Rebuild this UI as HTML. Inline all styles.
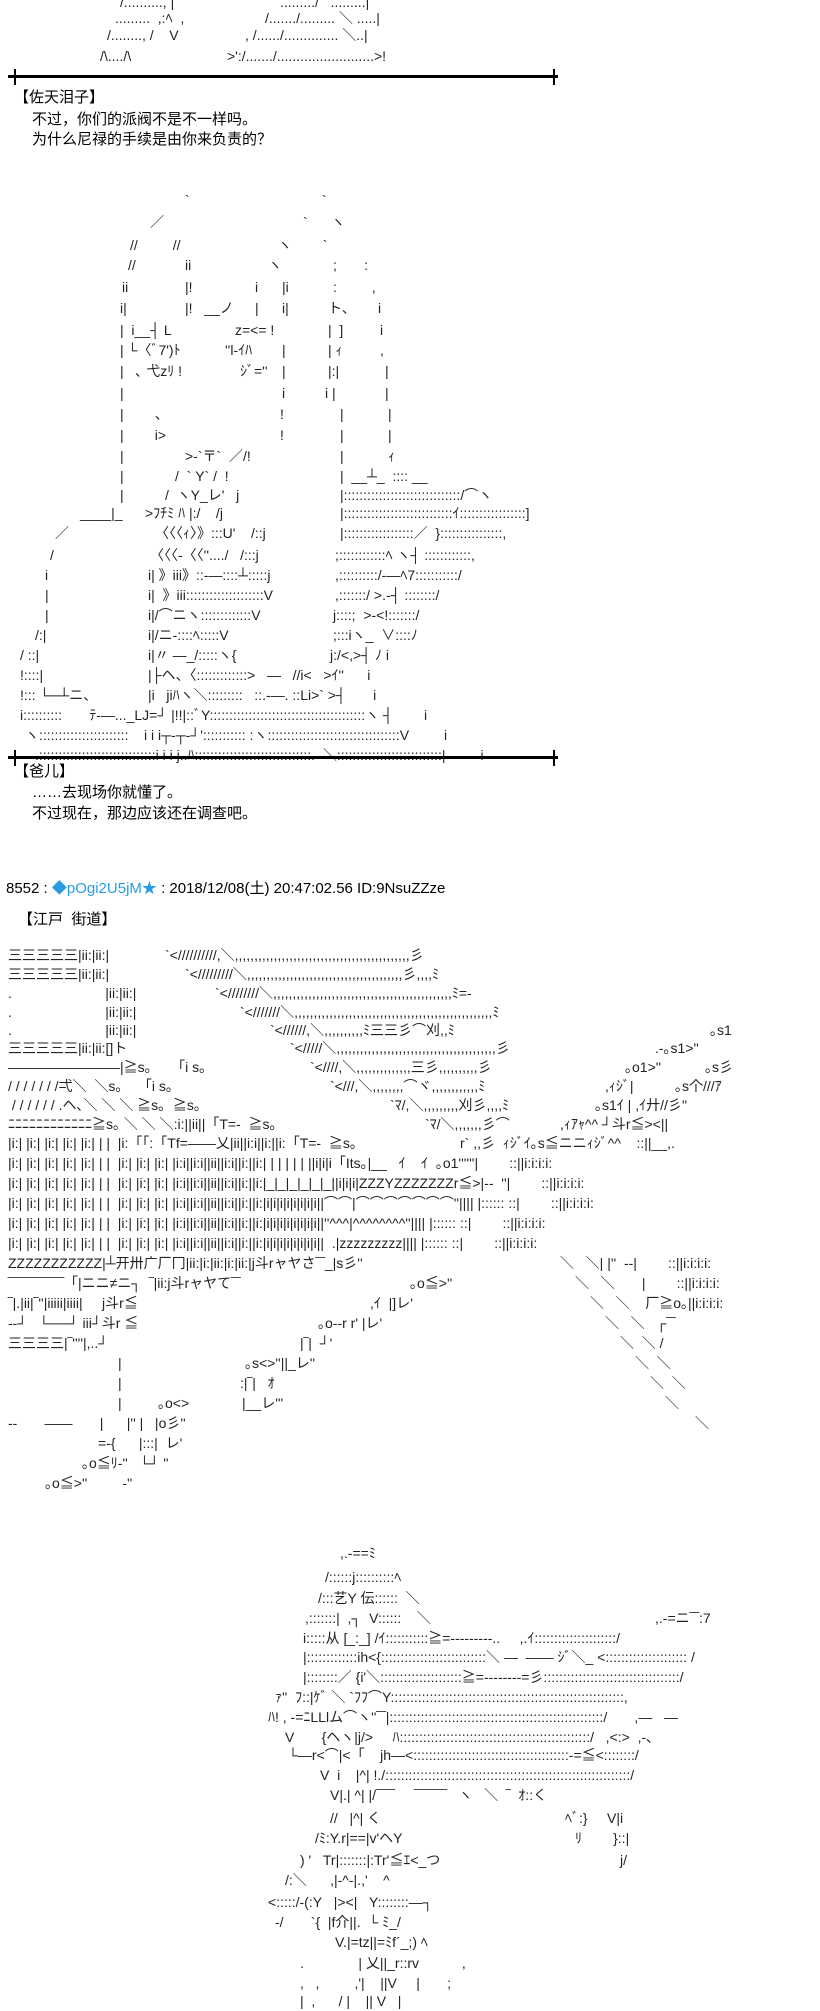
<!DOCTYPE html>
<html><head><meta charset="utf-8">
<style>
html,body{margin:0;padding:0;background:#fff;}
body{width:820px;height:2000px;position:relative;overflow:hidden;color:#000;}
.a{position:absolute;white-space:pre;font:14px/20px "Liberation Sans","Noto Sans CJK JP",sans-serif;color:#222;}
.t{position:absolute;white-space:pre;font:15px/20px "Liberation Sans","Noto Sans CJK SC",sans-serif;color:#000;}
.r{position:absolute;height:3px;background:#000;}
.k{position:absolute;width:2px;height:16px;background:#000;}
</style></head><body>

<!-- top art -->
<div class="a" style="top:-8px;left:120px">/.........., |</div>
<div class="a" style="top:-8px;left:280px">........./&nbsp;&nbsp;&nbsp;.........|</div>
<div class="a" style="top:8px;left:115px">.........&nbsp; ,:ﾍ&nbsp; ,</div>
<div class="a" style="top:8px;left:265px">/......./.........&nbsp;＼ .....|</div>
<div class="a" style="top:25px;left:107px">/........, /&nbsp;&nbsp;&nbsp; V</div>
<div class="a" style="top:25px;left:245px">, /....../..............&nbsp;＼..|</div>
<div class="a" style="top:46px;left:100px">/\..../\</div>
<div class="a" style="top:46px;left:227px">&gt;':/......./.........................&gt;!</div>

<div class="r" style="top:75px;left:8px;width:550px"></div>
<div class="k" style="top:69px;left:14px"></div>
<div class="k" style="top:69px;left:553px"></div>

<div class="t" style="top:88px;left:14px">【佐天泪子】</div>
<div class="t" style="top:110px;left:32px">不过，你们的派阀不是不一样吗。</div>
<div class="t" style="top:130px;left:32px">为什么尼禄的手续是由你来负责的？</div>

<!-- figure -->
<div class="a" style="top:190px;left:185px">`</div><div class="a" style="top:190px;left:322px">`</div>
<div class="a" style="top:212px;left:150px">／</div><div class="a" style="top:212px;left:303px">`&nbsp;&nbsp;&nbsp;&nbsp;&nbsp;&nbsp;ヽ</div>
<div class="a" style="top:235px;left:130px">//&nbsp;&nbsp;&nbsp;&nbsp;&nbsp;&nbsp;&nbsp;&nbsp;&nbsp;//&nbsp;&nbsp;&nbsp;&nbsp;&nbsp;&nbsp;&nbsp;&nbsp;&nbsp;&nbsp;&nbsp;&nbsp;&nbsp;&nbsp;&nbsp;&nbsp;&nbsp;&nbsp;&nbsp;&nbsp;&nbsp;&nbsp;&nbsp;&nbsp;&nbsp;ヽ&nbsp;&nbsp;&nbsp;&nbsp;&nbsp;&nbsp;&nbsp;&nbsp;`</div>
<div class="a" style="top:255px;left:128px">//</div><div class="a" style="top:255px;left:185px">ii</div><div class="a" style="top:255px;left:268px">ヽ</div><div class="a" style="top:255px;left:333px">;&nbsp;&nbsp;&nbsp;&nbsp;&nbsp;&nbsp;&nbsp;:</div>
<div class="a" style="top:277px;left:122px">ii</div><div class="a" style="top:277px;left:185px">|!</div><div class="a" style="top:277px;left:255px">i</div><div class="a" style="top:277px;left:282px">|i</div><div class="a" style="top:277px;left:333px">:&nbsp;&nbsp;&nbsp;&nbsp;&nbsp;&nbsp;&nbsp;&nbsp;&nbsp;,</div>
<div class="a" style="top:298px;left:120px">i|</div><div class="a" style="top:298px;left:185px">|!&nbsp;&nbsp;&nbsp;__ノ</div><div class="a" style="top:298px;left:255px">|</div><div class="a" style="top:298px;left:282px">i|</div><div class="a" style="top:298px;left:328px">ト、</div><div class="a" style="top:298px;left:378px">i</div>
<div class="a" style="top:320px;left:120px">|&nbsp;&nbsp;i__┤ L</div><div class="a" style="top:320px;left:235px">z=&lt;= !</div><div class="a" style="top:320px;left:328px">|&nbsp;&nbsp;]</div><div class="a" style="top:320px;left:380px">i</div>
<div class="a" style="top:340px;left:120px">| └〈ﾞ7')ﾄ</div><div class="a" style="top:340px;left:225px">''l-ｲﾊ</div><div class="a" style="top:340px;left:282px">|</div><div class="a" style="top:340px;left:328px">| ｨ</div><div class="a" style="top:340px;left:380px">,</div>
<div class="a" style="top:361px;left:120px">|&nbsp;&nbsp;&nbsp;､ 弋zﾘ !</div><div class="a" style="top:361px;left:240px">ｼﾞ=''</div><div class="a" style="top:361px;left:282px">|</div><div class="a" style="top:361px;left:328px">|:|</div><div class="a" style="top:361px;left:385px">|</div>
<div class="a" style="top:383px;left:120px">|</div><div class="a" style="top:383px;left:282px">i</div><div class="a" style="top:383px;left:325px">i |</div><div class="a" style="top:383px;left:385px">|</div>
<div class="a" style="top:404px;left:120px">|&nbsp;&nbsp;&nbsp;&nbsp;&nbsp;&nbsp;&nbsp;&nbsp;、</div><div class="a" style="top:404px;left:280px">!</div><div class="a" style="top:404px;left:340px">|</div><div class="a" style="top:404px;left:388px">|</div>
<div class="a" style="top:425px;left:120px">|&nbsp;&nbsp;&nbsp;&nbsp;&nbsp;&nbsp;&nbsp;&nbsp;i&gt;</div><div class="a" style="top:425px;left:280px">!</div><div class="a" style="top:425px;left:340px">|</div><div class="a" style="top:425px;left:388px">|</div>
<div class="a" style="top:446px;left:120px">|</div><div class="a" style="top:446px;left:185px">&gt;-`〒`&nbsp;&nbsp;／/!</div><div class="a" style="top:446px;left:340px">|</div><div class="a" style="top:446px;left:388px">ｨ</div>
<div class="a" style="top:466px;left:120px">|</div><div class="a" style="top:466px;left:175px">/&nbsp;&nbsp;`&nbsp;Y`&nbsp;/&nbsp;&nbsp;!</div><div class="a" style="top:466px;left:340px">|&nbsp;&nbsp;__┴_&nbsp;&nbsp;::::&nbsp;__</div>
<div class="a" style="top:485px;left:120px">|</div><div class="a" style="top:485px;left:165px">/&nbsp;&nbsp;ヽY_レ'&nbsp;&nbsp;&nbsp;j</div><div class="a" style="top:485px;left:340px">|::::::::::::::::::::::::::::::/⌒ヽ</div>
<div class="a" style="top:503px;left:80px">____|_</div><div class="a" style="top:503px;left:145px">&gt;ﾌﾁﾐ ﾊ |:/&nbsp;&nbsp;&nbsp;&nbsp;/j</div><div class="a" style="top:503px;left:340px">|::::::::::::::::::::::::::::ｲ:::::::::::::::::]</div>
<div class="a" style="top:523px;left:55px">／</div><div class="a" style="top:523px;left:155px">〈〈〈ｨ〉》:::U'&nbsp;&nbsp;&nbsp;&nbsp;/::j</div><div class="a" style="top:523px;left:340px">|::::::::::::::::::／&nbsp;&nbsp;}::::::::::::::::,</div>
<div class="a" style="top:545px;left:50px">/</div><div class="a" style="top:545px;left:150px">〈〈〈-〈〈''..../&nbsp;&nbsp;&nbsp;/:::j</div><div class="a" style="top:545px;left:335px">;::::::::::::ﾍ ヽ┤ ::::::::::::,</div>
<div class="a" style="top:565px;left:45px">i</div><div class="a" style="top:565px;left:148px">i| 》iii》::-―::::┴:::::j</div><div class="a" style="top:565px;left:335px">,::::::::::/-―ﾍ7:::::::::::/</div>
<div class="a" style="top:585px;left:45px">|</div><div class="a" style="top:585px;left:148px">i|&nbsp;&nbsp;》iii::::::::::::::::::::V</div><div class="a" style="top:585px;left:335px">,:::::::/ &gt;.-┤ ::::::::/</div>
<div class="a" style="top:605px;left:45px">|</div><div class="a" style="top:605px;left:148px">i|/⌒ニヽ:::::::::::::V</div><div class="a" style="top:605px;left:333px">j::::;&nbsp;&nbsp;&gt;-&lt;!:::::::/</div>
<div class="a" style="top:625px;left:35px">/:|</div><div class="a" style="top:625px;left:148px">i|/ニ-::::ﾍ:::::V</div><div class="a" style="top:625px;left:333px">;:::iヽ_&nbsp;&nbsp;∨::::ﾉ</div>
<div class="a" style="top:645px;left:20px">/ ::|</div><div class="a" style="top:645px;left:148px">i|〃 ―_/:::::ヽ{</div><div class="a" style="top:645px;left:330px">j:/&lt;,&gt;┤ ﾉ i</div>
<div class="a" style="top:665px;left:20px">!::::|</div><div class="a" style="top:665px;left:148px">|├ヘ、〈:::::::::::::&gt;&nbsp;&nbsp;&nbsp;―&nbsp;&nbsp;&nbsp;//i&lt;&nbsp;&nbsp;&nbsp;&gt;ｲ''&nbsp;&nbsp;&nbsp;&nbsp;&nbsp;&nbsp;i</div>
<div class="a" style="top:685px;left:20px">!::: └─┴ニ、</div><div class="a" style="top:685px;left:148px">|i&nbsp;&nbsp;&nbsp;jiﾊヽ＼:::::::::&nbsp;&nbsp;&nbsp;::.-―.&nbsp;::Li&gt;`&nbsp;&gt;┤&nbsp;&nbsp;&nbsp;&nbsp;&nbsp;&nbsp;&nbsp;i</div>
<div class="a" style="top:705px;left:20px">i::::::::::&nbsp;&nbsp;&nbsp;&nbsp;&nbsp;&nbsp;&nbsp;ﾃ-―..._LJ=┘ |!!|::ﾞY::::::::::::::::::::::::::::::::::::::::ヽ ┤&nbsp;&nbsp;&nbsp;&nbsp;&nbsp;&nbsp;&nbsp;&nbsp;i</div>
<div class="a" style="top:725px;left:25px">ヽ:::::::::::::::::::::::&nbsp;&nbsp;&nbsp;&nbsp;i i i┬‐┬‐┘'::::::::::: :ヽ::::::::::::::::::::::::::::::::::V&nbsp;&nbsp;&nbsp;&nbsp;&nbsp;&nbsp;&nbsp;&nbsp;&nbsp;i</div>
<div class="a" style="top:745px;left:35px">.::::::::::::::::::::::::::::::i i i j..ﾊ::::::::::::::::::::::::::::::.&nbsp;&nbsp;＼:::::::::::::::::::::::::::|&nbsp;&nbsp;&nbsp;&nbsp;&nbsp;&nbsp;&nbsp;&nbsp;&nbsp;i</div>

<div class="r" style="top:756px;left:8px;width:550px"></div>
<div class="k" style="top:750px;left:14px"></div>
<div class="k" style="top:750px;left:553px"></div>

<div class="t" style="top:762px;left:14px">【爸儿】</div>
<div class="t" style="top:783px;left:32px">……去现场你就懂了。</div>
<div class="t" style="top:804px;left:32px">不过现在，那边应该还在调查吧。</div>

<div class="t" style="top:879px;left:6px">8552 : <span style="color:#2b9be0">◆pOgi2U5jM★</span> : 2018/12/08(土) 20:47:02.56 ID:9NsuZZze</div>
<div class="t" style="top:910px;left:18px">【江戸&nbsp;&nbsp;街道】</div>

<!-- street -->
<div class="a" style="top:945px;left:8px">三三三三三|ii:|ii:|</div><div class="a" style="top:945px;left:165px">`&lt;//////////,＼,,,,,,,,,,,,,,,,,,,,,,,,,,,,,,,,,,,,,,,,,,,,,彡</div>
<div class="a" style="top:964px;left:8px">三三三三三|ii:|ii:|</div><div class="a" style="top:964px;left:185px">`&lt;/////////＼,,,,,,,,,,,,,,,,,,,,,,,,,,,,,,,,,,,,,,,,彡,,,,ﾐ</div>
<div class="a" style="top:983px;left:8px">.&nbsp;&nbsp;&nbsp;&nbsp;&nbsp;&nbsp;&nbsp;&nbsp;&nbsp;&nbsp;&nbsp;&nbsp;&nbsp;&nbsp;&nbsp;&nbsp;&nbsp;&nbsp;&nbsp;&nbsp;&nbsp;&nbsp;&nbsp;&nbsp;|ii:|ii:|</div><div class="a" style="top:983px;left:215px">`&lt;////////＼,,,,,,,,,,,,,,,,,,,,,,,,,,,,,,,,,,,,,,,,,,,,,,ﾐ=-</div>
<div class="a" style="top:1002px;left:8px">.&nbsp;&nbsp;&nbsp;&nbsp;&nbsp;&nbsp;&nbsp;&nbsp;&nbsp;&nbsp;&nbsp;&nbsp;&nbsp;&nbsp;&nbsp;&nbsp;&nbsp;&nbsp;&nbsp;&nbsp;&nbsp;&nbsp;&nbsp;&nbsp;|ii:|ii:|</div><div class="a" style="top:1002px;left:240px">`&lt;///////＼,,,,,,,,,,,,,,,,,,,,,,,,,,,,,,,,,,,,,,,,,,,,,,,,,,,ﾐ</div>
<div class="a" style="top:1020px;left:8px">.&nbsp;&nbsp;&nbsp;&nbsp;&nbsp;&nbsp;&nbsp;&nbsp;&nbsp;&nbsp;&nbsp;&nbsp;&nbsp;&nbsp;&nbsp;&nbsp;&nbsp;&nbsp;&nbsp;&nbsp;&nbsp;&nbsp;&nbsp;&nbsp;|ii:|ii:|</div><div class="a" style="top:1020px;left:270px">`&lt;//////,＼,,,,,,,,,,ﾐ三三彡⌒刈,,ﾐ</div><div class="a" style="top:1020px;left:710px">｡s1</div>
<div class="a" style="top:1038px;left:8px">三三三三三|ii:|ii:[]ト</div><div class="a" style="top:1038px;left:290px">`&lt;/////＼,,,,,,,,,,,,,,,,,,,,,,,,,,,,,,,,,,,,,,,,,彡</div><div class="a" style="top:1038px;left:655px">.-｡s1&gt;''</div>
<div class="a" style="top:1057px;left:8px">――――――――|≧s｡&nbsp;&nbsp;&nbsp;&nbsp;&nbsp;「i s｡</div><div class="a" style="top:1057px;left:310px">`&lt;////,＼,,,,,,,,,,,,,,三彡,,,,,,,,,,彡</div><div class="a" style="top:1057px;left:625px">｡o1&gt;''</div><div class="a" style="top:1057px;left:705px">｡s彡</div>
<div class="a" style="top:1076px;left:8px">/ / / / / / /弌＼&nbsp;&nbsp;＼s｡&nbsp;&nbsp;&nbsp;&nbsp;「i s｡</div><div class="a" style="top:1076px;left:330px">`&lt;///,＼,,,,,,,,⌒ヾ,,,,,,,,,,,,ﾐ</div><div class="a" style="top:1076px;left:605px">,ｨｼﾞ|</div><div class="a" style="top:1076px;left:675px">｡s个///ｱ</div>
<div class="a" style="top:1095px;left:8px">&nbsp;/ / / / / / .ヘ､＼ ＼ ＼ ≧s｡&nbsp;&nbsp;≧s｡</div><div class="a" style="top:1095px;left:390px">`ﾏ/,＼,,,,,,,,,刈彡,,,,ﾐ</div><div class="a" style="top:1095px;left:595px">｡s1ｲ | ,ｲ廾//彡''</div>
<div class="a" style="top:1114px;left:8px">ﾆﾆﾆﾆﾆﾆﾆﾆﾆﾆﾆﾆ≧s｡&nbsp;＼ ＼ ＼:i:||ii||「T=-&nbsp;&nbsp;≧s｡</div><div class="a" style="top:1114px;left:425px">`ﾏ/＼,,,,,,,彡⌒</div><div class="a" style="top:1114px;left:560px">,ｨｱｬ^^&nbsp;┘斗r≦&gt;&lt;||</div>
<div class="a" style="top:1133px;left:8px">|i:| |i:| |i:| |i:| |i:| | |&nbsp;&nbsp;|i:「「:「Tf=――乂|ii||i:i||i:||i:「T=-&nbsp;&nbsp;≧s｡</div><div class="a" style="top:1133px;left:460px">r`&nbsp;,,彡&nbsp;&nbsp;ｨｼﾞｲ｡s≦ニニｨｼﾞ^^&nbsp;&nbsp;&nbsp;&nbsp;::||__,.</div>
<div class="a" style="top:1153px;left:8px">|i:| |i:| |i:| |i:| |i:| | |&nbsp;&nbsp;|i:| |i:| |i:| |i:i||i:i||ii||i:i||i:||i:| | | | | | ||i|i|i「Its｡|__&nbsp;&nbsp;&nbsp;ｲ&nbsp;&nbsp;&nbsp;&nbsp;ｲ&nbsp;&nbsp;｡o1''''''|&nbsp;&nbsp;&nbsp;&nbsp;&nbsp;&nbsp;&nbsp;&nbsp;::||i:i:i:i:</div>
<div class="a" style="top:1173px;left:8px">|i:| |i:| |i:| |i:| |i:| | |&nbsp;&nbsp;|i:| |i:| |i:| |i:i||i:i||ii||i:i||i:||i:|_|_|_|_|_|_||i|i|i|ZZZYZZZZZZZr≦&gt;|--&nbsp;&nbsp;''|&nbsp;&nbsp;&nbsp;&nbsp;&nbsp;&nbsp;&nbsp;&nbsp;::||i:i:i:i:</div>
<div class="a" style="top:1193px;left:8px">|i:| |i:| |i:| |i:| |i:| | |&nbsp;&nbsp;|i:| |i:| |i:| |i:i||i:i||ii||i:i||i:||i:|i|i|i|i|i|i|i|i||⌒⌒|⌒⌒⌒⌒⌒⌒⌒''|||| |:::::: ::|&nbsp;&nbsp;&nbsp;&nbsp;&nbsp;&nbsp;&nbsp;&nbsp;::||i:i:i:i:</div>
<div class="a" style="top:1213px;left:8px">|i:| |i:| |i:| |i:| |i:| | |&nbsp;&nbsp;|i:| |i:| |i:| |i:i||i:i||ii||i:i||i:||i:|i|i|i|i|i|i|i|i||''^^^|^^^^^^^^''|||| |:::::: ::|&nbsp;&nbsp;&nbsp;&nbsp;&nbsp;&nbsp;&nbsp;&nbsp;::||i:i:i:i:</div>
<div class="a" style="top:1233px;left:8px">|i:| |i:| |i:| |i:| |i:| | |&nbsp;&nbsp;|i:| |i:| |i:| |i:i||i:i||ii||i:i||i:||i:|i|i|i|i|i|i|i|i||&nbsp;&nbsp;.|zzzzzzzzz|||| |:::::: ::|&nbsp;&nbsp;&nbsp;&nbsp;&nbsp;&nbsp;&nbsp;&nbsp;::||i:i:i:i:</div>
<div class="a" style="top:1253px;left:8px">ZZZZZZZZZZZ|┴开卅广厂冂|ii:|i:|ii:|i:|ii:|j斗rャヤさ‾‾_|s彡''</div><div class="a" style="top:1253px;left:560px">＼&nbsp;&nbsp;&nbsp;＼| |''&nbsp;&nbsp;--|&nbsp;&nbsp;&nbsp;&nbsp;&nbsp;&nbsp;&nbsp;&nbsp;::||i:i:i:i:</div>
<div class="a" style="top:1273px;left:8px">‾‾‾‾‾‾‾‾‾‾‾‾「|ニニ≠ニ┐&nbsp;&nbsp;‾|ii:j斗rャヤて‾‾</div><div class="a" style="top:1273px;left:410px">｡o≦&gt;''</div><div class="a" style="top:1273px;left:575px">＼&nbsp;&nbsp;&nbsp;＼&nbsp;&nbsp;&nbsp;&nbsp;&nbsp;&nbsp;&nbsp;|&nbsp;&nbsp;&nbsp;&nbsp;&nbsp;&nbsp;&nbsp;&nbsp;::||i:i:i:i:</div>
<div class="a" style="top:1293px;left:8px">‾|.|ii|‾''|iiiii|iiii|&nbsp;&nbsp;&nbsp;&nbsp;&nbsp;j斗r≦</div><div class="a" style="top:1293px;left:370px">,ｲ&nbsp;&nbsp;|]レ'</div><div class="a" style="top:1293px;left:590px">＼&nbsp;&nbsp;&nbsp;＼&nbsp;&nbsp;&nbsp;&nbsp;厂≧o｡||i:i:i:i:</div>
<div class="a" style="top:1313px;left:8px">--┘&nbsp;&nbsp;&nbsp;└──┘ iii┘斗r ≦</div><div class="a" style="top:1313px;left:318px">｡o--r r'&nbsp;|レ'</div><div class="a" style="top:1313px;left:605px">＼&nbsp;&nbsp;&nbsp;＼&nbsp;&nbsp;&nbsp;┌‾‾</div>
<div class="a" style="top:1333px;left:8px">三三三三|‾''''|,..┘</div><div class="a" style="top:1333px;left:300px">|‾|&nbsp;&nbsp;┘'</div><div class="a" style="top:1333px;left:620px">＼&nbsp;&nbsp;＼&nbsp;/</div>
<div class="a" style="top:1353px;left:118px">|</div><div class="a" style="top:1353px;left:245px">｡s&lt;&gt;''||_レ''</div><div class="a" style="top:1353px;left:635px">＼&nbsp;&nbsp;＼</div>
<div class="a" style="top:1373px;left:118px">|</div><div class="a" style="top:1373px;left:240px">:|‾|&nbsp;&nbsp;&nbsp;ｵ</div><div class="a" style="top:1373px;left:650px">＼&nbsp;&nbsp;＼</div>
<div class="a" style="top:1393px;left:118px">|</div><div class="a" style="top:1393px;left:158px">｡o&lt;&gt;</div><div class="a" style="top:1393px;left:242px">|__レ'''</div><div class="a" style="top:1393px;left:665px">＼</div>
<div class="a" style="top:1413px;left:8px">--&nbsp;&nbsp;&nbsp;&nbsp;&nbsp;&nbsp;&nbsp;――&nbsp;&nbsp;&nbsp;&nbsp;&nbsp;&nbsp;&nbsp;|&nbsp;&nbsp;&nbsp;&nbsp;&nbsp;&nbsp;|''&nbsp;|&nbsp;&nbsp;&nbsp;|o彡''</div><div class="a" style="top:1413px;left:695px">＼</div>
<div class="a" style="top:1433px;left:98px">=-{&nbsp;&nbsp;&nbsp;&nbsp;&nbsp;&nbsp;|:::|&nbsp;&nbsp;レ'</div>
<div class="a" style="top:1453px;left:82px">｡o≦ﾘ-''&nbsp;&nbsp;&nbsp;└┘&nbsp;''</div>
<div class="a" style="top:1473px;left:45px">｡o≦&gt;''&nbsp;&nbsp;&nbsp;&nbsp;&nbsp;&nbsp;&nbsp;&nbsp;&nbsp;-''</div>

<!-- bottom figure -->
<div class="a" style="top:1543px;left:340px">,.-==ﾐ</div>
<div class="a" style="top:1567px;left:325px">/::::::j::::::::::ﾍ</div>
<div class="a" style="top:1588px;left:318px">/:::艺Y 伝::::::&nbsp;&nbsp;＼</div>
<div class="a" style="top:1608px;left:305px">,:::::::|&nbsp;&nbsp;,┐&nbsp;&nbsp;V::::::&nbsp;&nbsp;&nbsp;&nbsp;＼</div><div class="a" style="top:1608px;left:655px">,.-=ニ‾‾:7</div>
<div class="a" style="top:1628px;left:303px">i:::::从 [_:_] /ｲ:::::::::::≧=---------..&nbsp;&nbsp;&nbsp;&nbsp;&nbsp;,.ｲ:::::::::::::::::::::/</div>
<div class="a" style="top:1647px;left:303px">|:::::::::::::ih&lt;{:::::::::::::::::::::::::::＼&nbsp;―&nbsp;&nbsp;――&nbsp;ｼﾞ＼_&nbsp;&lt;:::::::::::::::::::::&nbsp;/</div>
<div class="a" style="top:1667px;left:303px">|::::::::／ {i'＼:::::::::::::::::::::≧=--------=彡:::::::::::::::::::::::::::::::::::/</div>
<div class="a" style="top:1687px;left:275px">ｧ''&nbsp;&nbsp;ﾌ::|ｹﾞ&nbsp;＼&nbsp;`ﾌﾌ⌒Y::::::::::::::::::::::::::::::::::::::::::::::::::::::::::::,</div>
<div class="a" style="top:1707px;left:268px">ﾊ!&nbsp;,&nbsp;-=ﾆLLlム⌒ヽ''‾‾|:::::::::::::::::::::::::::::::::::::::::::::::::::::::/&nbsp;&nbsp;&nbsp;&nbsp;&nbsp;&nbsp;&nbsp;,―&nbsp;&nbsp;&nbsp;―</div>
<div class="a" style="top:1727px;left:285px">V&nbsp;&nbsp;&nbsp;&nbsp;&nbsp;&nbsp;&nbsp;{ヘヽ|j/&gt;&nbsp;&nbsp;&nbsp;&nbsp;&nbsp;ﾊ:::::::::::::::::::::::::::::::::::::::::::::::::/&nbsp;&nbsp;&nbsp;,&lt;:&gt;&nbsp;&nbsp;,-､</div>
<div class="a" style="top:1745px;left:288px">└―r&lt;⌒|&lt;「&nbsp;&nbsp;&nbsp;&nbsp;jh―&lt;::::::::::::::::::::::::::::::::::::::::-=≦&lt;::::::::/</div>
<div class="a" style="top:1765px;left:320px">V&nbsp;&nbsp;i&nbsp;&nbsp;&nbsp;&nbsp;|^|&nbsp;!./:::::::::::::::::::::::::::::::::::::::::::::::::::::::::::::::/</div>
<div class="a" style="top:1785px;left:330px">V|.|&nbsp;^|&nbsp;|/‾‾‾‾&nbsp;&nbsp;&nbsp;&nbsp;&nbsp;‾‾‾‾‾‾‾&nbsp;&nbsp;&nbsp;ヽ&nbsp;&nbsp;&nbsp;＼&nbsp;&nbsp;‾&nbsp;&nbsp;ｵ::く</div>
<div class="a" style="top:1808px;left:330px">//&nbsp;&nbsp;&nbsp;|^|&nbsp;く</div><div class="a" style="top:1808px;left:565px">ﾍﾞ:}&nbsp;&nbsp;&nbsp;&nbsp;&nbsp;V|i</div>
<div class="a" style="top:1828px;left:315px">/ﾐ:Y.r|==|v'ヘY</div><div class="a" style="top:1828px;left:575px">ﾘ&nbsp;&nbsp;&nbsp;&nbsp;&nbsp;&nbsp;&nbsp;&nbsp;}::|</div>
<div class="a" style="top:1850px;left:300px">)&nbsp;'&nbsp;&nbsp;&nbsp;Tr|:::::::|:Tr'≦ｴ&lt;_つ</div><div class="a" style="top:1850px;left:620px">j/</div>
<div class="a" style="top:1870px;left:285px">/:＼&nbsp;&nbsp;&nbsp;&nbsp;&nbsp;&nbsp;,|-^-|.,'&nbsp;&nbsp;&nbsp;&nbsp;^</div>
<div class="a" style="top:1892px;left:268px">&lt;:::::/‐(:Y&nbsp;&nbsp;&nbsp;|&gt;&lt;|&nbsp;&nbsp;&nbsp;Y::::::::―┐</div>
<div class="a" style="top:1912px;left:275px">-/&nbsp;&nbsp;&nbsp;&nbsp;&nbsp;&nbsp;&nbsp;`{&nbsp;&nbsp;|f介||.&nbsp;&nbsp;└&nbsp;ﾐ_/</div>
<div class="a" style="top:1932px;left:335px">V.|=tz||=ﾐf´_;)&nbsp;ﾍ</div>
<div class="a" style="top:1953px;left:300px">.&nbsp;&nbsp;&nbsp;&nbsp;&nbsp;&nbsp;&nbsp;&nbsp;&nbsp;&nbsp;&nbsp;&nbsp;&nbsp;&nbsp;| 乂||_r::rv&nbsp;&nbsp;&nbsp;&nbsp;&nbsp;&nbsp;&nbsp;&nbsp;&nbsp;&nbsp;&nbsp;,</div>
<div class="a" style="top:1973px;left:300px">,&nbsp;&nbsp;&nbsp;,&nbsp;&nbsp;&nbsp;&nbsp;&nbsp;&nbsp;&nbsp;&nbsp;&nbsp;,'|&nbsp;&nbsp;&nbsp;&nbsp;||V&nbsp;&nbsp;&nbsp;&nbsp;&nbsp;|&nbsp;&nbsp;&nbsp;&nbsp;&nbsp;&nbsp;&nbsp;;</div>
<div class="a" style="top:1991px;left:300px">|&nbsp;&nbsp;,&nbsp;&nbsp;&nbsp;&nbsp;&nbsp;&nbsp;/&nbsp;|&nbsp;&nbsp;&nbsp;&nbsp;||&nbsp;V&nbsp;&nbsp;&nbsp;|</div>

</body></html>
